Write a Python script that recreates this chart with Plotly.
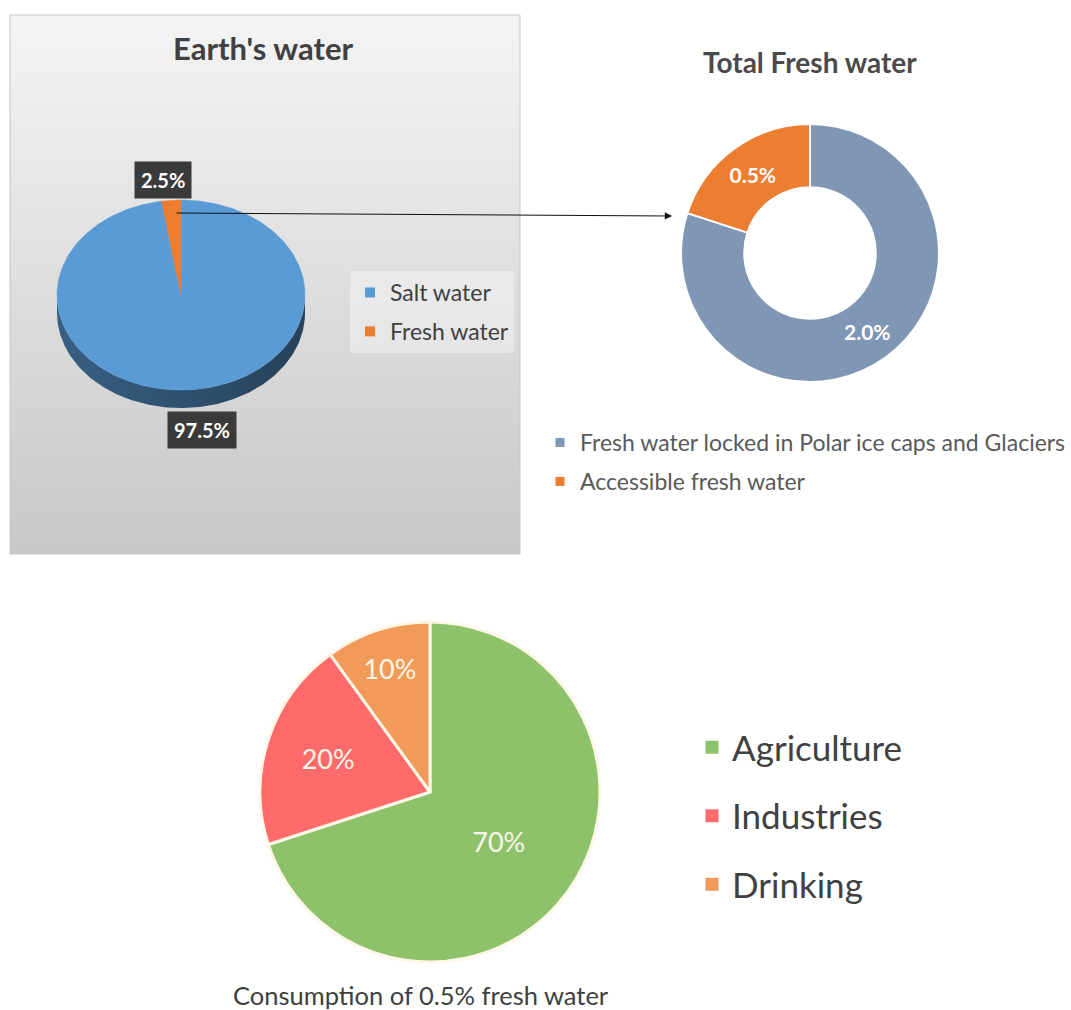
import numpy as np
import plotly.graph_objects as go

W, H = 1071, 1010

# ---------------- data ----------------
earth_title = "Earth's water"
earth_labels = ["Salt water", "Fresh water"]
earth_values = [97.5, 2.5]
earth_colors = ["#5b9bd5", "#ed7d31"]

fresh_title = "Total Fresh water"
fresh_labels = ["Fresh water locked in Polar ice caps and Glaciers", "Accessible fresh water"]
fresh_values = [2.0, 0.5]
fresh_colors = ["#7f96b4", "#ed7d31"]

use_title = "Consumption of 0.5% fresh water"
use_labels = ["Agriculture", "Industries", "Drinking"]
use_values = [70, 20, 10]
use_colors = ["#8dc26b", "#ff6b6b", "#f19a5a"]

FONT = "Lato"
TXT = "#404040"


def px_x(v):
    return v / W


def px_y(v):
    return 1 - v / H


def shade(hexcol, f):
    h = hexcol.lstrip("#")
    r, g, b = (int(h[i:i + 2], 16) for i in (0, 2, 4))
    return "#%02x%02x%02x" % (int(r * f), int(g * f), int(b * f))


def arc(t0, t1, cx, cy, rx, ry, dy=0.0):
    n = max(2, int(abs(t1 - t0)) + 2)
    t = np.radians(np.linspace(t0, t1, n))
    return list(cx + rx * np.sin(t)), list(cy + dy - ry * np.cos(t))


fig = go.Figure()

# ---------- panel 1 background (gradient box) ----------
bx0, by0, bx1, by1 = 10, 15, 520, 554
fig.add_trace(go.Scatter(
    x=[bx0, bx1, bx1, bx0, bx0], y=[by0, by0, by1, by1, by0],
    mode="lines", fill="toself",
    line=dict(color="#c6c6c6", width=1),
    fillgradient=dict(type="vertical", colorscale=[[0, "#c8c8c8"], [1, "#f4f4f4"]],
                      start=by1, stop=by0),
    hoverinfo="skip", showlegend=False))

# ---------- 3D elliptical pie (Earth's water) ----------
cx, cy, rx, ry, depth = 181, 295, 124, 95, 18
total = sum(earth_values)
start = 0.0
bounds = []
for v in earth_values:
    a1 = start + 360.0 * v / total
    bounds.append((start, a1))
    start = a1

# side walls (front half only)
for (a0, a1), col in zip(bounds, earth_colors):
    s0, s1 = max(a0, 90), min(a1, 270)
    if s1 <= s0:
        continue
    tx, ty = arc(s0, s1, cx, cy, rx, ry)
    bxs, bys = arc(s1, s0, cx, cy, rx, ry, dy=depth)
    fig.add_trace(go.Scatter(
        x=tx + bxs + [tx[0]], y=ty + bys + [ty[0]],
        mode="lines", fill="toself", line=dict(width=0, color=shade(col, 0.55)),
        fillgradient=dict(type="horizontal",
                          colorscale=[[0, shade(col, 0.62)], [1, shade(col, 0.42)]],
                          start=cx - rx, stop=cx + rx),
        hoverinfo="skip", showlegend=False))

# top surface slices
for (a0, a1), col, lab, v in zip(bounds, earth_colors, earth_labels, earth_values):
    ax_, ay_ = arc(a0, a1, cx, cy, rx, ry)
    fig.add_trace(go.Scatter(
        x=[cx] + ax_ + [cx], y=[cy] + ay_ + [cy],
        mode="lines", fill="toself", fillcolor=col,
        line=dict(width=0.5, color=col),
        name=lab, text=f"{lab}: {v}%", hoverinfo="text", showlegend=False))

# legend entries for Earth's water
for i, (lab, col) in enumerate(zip(earth_labels, earth_colors)):
    fig.add_trace(go.Scatter(
        x=[None], y=[None], mode="markers", name=lab,
        marker=dict(symbol="square", size=10, color=col),
        legend="legend", legendgroup=f"e{i}", showlegend=True))

# ---------- donut (Total Fresh water) ----------
fig.add_trace(go.Pie(
    labels=fresh_labels, values=fresh_values, hole=0.51, sort=False,
    direction="clockwise", rotation=0,
    marker=dict(colors=fresh_colors, line=dict(color="white", width=2)),
    texttemplate="%{value:.1f}%", textposition="inside",
    insidetextorientation="horizontal",
    textfont=dict(family=FONT, size=21, color="white", weight="bold"),
    domain=dict(x=[px_x(681), px_x(939)], y=[px_y(382), px_y(124)]),
    showlegend=False, hoverinfo="label+value"))

for i, (lab, col) in enumerate(zip(fresh_labels, fresh_colors)):
    fig.add_trace(go.Scatter(
        x=[None], y=[None], mode="markers", name=lab,
        marker=dict(symbol="square", size=9, color=col),
        legend="legend2", legendgroup=f"f{i}", showlegend=True))

# ---------- pie (Consumption) ----------
fig.add_trace(go.Pie(
    labels=use_labels, values=use_values, sort=False,
    direction="clockwise", rotation=0,
    marker=dict(colors=use_colors, line=dict(color="#fdf7e7", width=3)),
    texttemplate="%{value}%", textposition="inside",
    insidetextorientation="horizontal",
    textfont=dict(family=FONT, size=27, color="#fbf6ea"),
    domain=dict(x=[px_x(260), px_x(600)], y=[px_y(962), px_y(622)]),
    showlegend=False, hoverinfo="label+value"))

for i, (lab, col) in enumerate(zip(use_labels, use_colors)):
    fig.add_trace(go.Scatter(
        x=[None], y=[None], mode="markers", name=lab,
        marker=dict(symbol="square", size=13, color=col),
        legend="legend3", legendgroup=f"u{i}", showlegend=True))

# ---------- annotations ----------
ann = []
ann.append(dict(text=earth_title, x=263, y=48, xref="x", yref="y", showarrow=False,
                font=dict(family=FONT, size=31, color=TXT, weight="bold")))
ann.append(dict(text=fresh_title, x=810, y=62, xref="x", yref="y", showarrow=False,
                font=dict(family=FONT, size=28, color="#4a4a4a", weight="bold")))
ann.append(dict(text=use_title, x=421, y=995, xref="x", yref="y", showarrow=False,
                font=dict(family=FONT, size=25.5, color=TXT)))
# data labels of Earth's pie
label_pos = [(202, 430), (163, 180)]
for v, (lx, ly) in zip(earth_values, label_pos):
    ann.append(dict(text=f"{v}%", x=lx, y=ly, xref="x", yref="y", showarrow=False,
                    bgcolor="#3a3a3a", borderpad=6,
                    font=dict(family=FONT, size=20, color="white", weight="bold")))
# connector arrow
ann.append(dict(text="", x=672, y=216, ax=175, ay=213, xref="x", yref="y",
                axref="x", ayref="y", showarrow=True, arrowhead=2, arrowsize=1.2,
                arrowwidth=1.2, arrowcolor="#111111", standoff=0, startstandoff=0))

fig.update_layout(
    width=W, height=H, margin=dict(l=0, r=0, t=0, b=0),
    paper_bgcolor="white", plot_bgcolor="rgba(0,0,0,0)",
    font=dict(family=FONT, color=TXT),
    xaxis=dict(range=[0, W], visible=False, domain=[0, 1], fixedrange=True),
    yaxis=dict(range=[H, 0], visible=False, domain=[0, 1], fixedrange=True),
    annotations=ann,
    legend=dict(x=px_x(350), y=px_y(271), xanchor="left", yanchor="top",
                bgcolor="rgba(255,255,255,0.35)", tracegroupgap=6,
                font=dict(family=FONT, size=23, color=TXT)),
    legend2=dict(x=px_x(540), y=px_y(421), xanchor="left", yanchor="top",
                 bgcolor="rgba(0,0,0,0)", tracegroupgap=6,
                 font=dict(family=FONT, size=23, color="#595959")),
    legend3=dict(x=px_x(692), y=px_y(718), xanchor="left", yanchor="top",
                 bgcolor="rgba(0,0,0,0)", tracegroupgap=20,
                 font=dict(family=FONT, size=35, color=TXT)),
    showlegend=True,
)

fig.write_html("out.html", post_script="document.body.style.margin='0';")
